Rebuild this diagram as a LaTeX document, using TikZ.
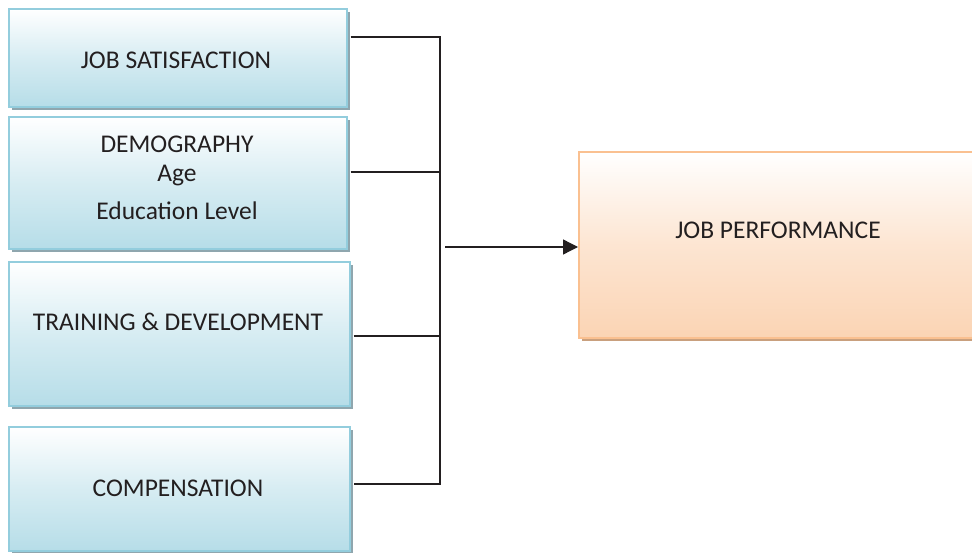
\documentclass[tikz,border=0pt]{standalone}
\usepackage{fontspec}
\setmainfont{Carlito}
\usetikzlibrary{arrows.meta,shadows,calc}
\definecolor{bluebot}{HTML}{B6DDE8}
\definecolor{blueedge}{HTML}{93CDDD}
\definecolor{blueshadow}{HTML}{8FA6AE}
\definecolor{orbot}{HTML}{FBD4B4}
\definecolor{oredge}{HTML}{FAC090}
\definecolor{orshadow}{HTML}{C9A07E}
\definecolor{txt}{HTML}{231F20}
\tikzset{
  bluebox/.style={rectangle, anchor=north west, inner sep=0pt, line width=1.6pt,
    draw=blueedge, top color=white, bottom color=bluebot, middle color=bluebot!55,
    general shadow={shadow xshift=3pt, shadow yshift=-3pt, fill=blueshadow}},
  orbox/.style={rectangle, anchor=north west, inner sep=0pt, line width=1.6pt,
    draw=oredge, top color=white, bottom color=orbot, middle color=orbot!60,
    general shadow={shadow xshift=3pt, shadow yshift=-3pt, fill=orshadow}},
  lbl/.style={font=\fontsize{25.5}{30}\selectfont, text=txt, inner sep=0pt, align=center},
  conn/.style={line width=1.3pt, draw=txt},
}
\begin{document}
\begin{tikzpicture}[x=1pt,y=-1pt]
\useasboundingbox (0,0) rectangle (972,553);
\node[bluebox, minimum width=338pt, minimum height=98pt] (b1) at (8,8) {};
\node[bluebox, minimum width=338pt, minimum height=132pt] (b2) at (8,116) {};
\node[bluebox, minimum width=341pt, minimum height=144pt] (b3) at (8,261) {};
\node[bluebox, minimum width=341pt, minimum height=124pt] (b4) at (8,426) {};
\node[orbox, minimum width=400pt, minimum height=186pt] (jp) at (578,151) {};

\node[lbl] (t1) at (176,60) {JOB SATISFACTION};
\node[lbl] (t2a) at (177,144) {DEMOGRAPHY};
\node[lbl] (t2b) at (177,176) {Age};
\node[lbl] (t2c) at (177,211) {Education Level};
\node[lbl] (t3) at (178,322) {TRAINING \& DEVELOPMENT};
\node[lbl] (t4) at (178,488) {COMPENSATION};
\node[lbl] (t5) at (778,230) {JOB PERFORMANCE};

\coordinate (j1) at (440,37);
\coordinate (j2) at (440,172);
\coordinate (j3) at (440,336);
\coordinate (j4) at (440,484);
\coordinate (a0) at (445,247);

\draw[conn] ($(b1.east |- j1)+(3,0)$) -- (j1) -- (j4) -- ($(b4.east |- j4)+(3,0)$);
\draw[conn] ($(b2.east |- j2)+(3,0)$) -- (j2);
\draw[conn] ($(b3.east |- j3)+(3,0)$) -- (j3);
\draw[conn, -{Triangle[length=15pt,width=15pt]}] (a0) -- (jp.west |- a0);
\end{tikzpicture}
\end{document}
